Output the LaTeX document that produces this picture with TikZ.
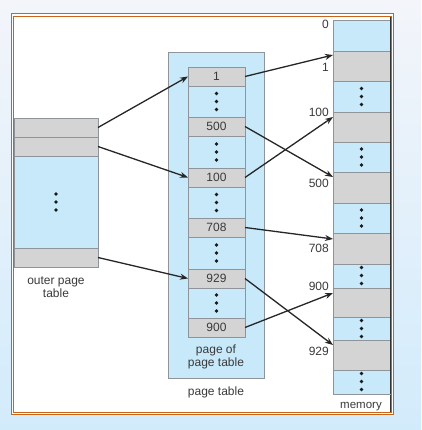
\documentclass[tikz,border=0pt]{standalone}
\usepackage{fontspec}
\setmainfont{Liberation Sans}
\usetikzlibrary{arrows.meta}
\definecolor{cellblue}{HTML}{C8E9F9}
\definecolor{cellgray}{HTML}{D4D4D4}
\definecolor{edgegray}{HTML}{8E9499}
\definecolor{framorange}{HTML}{C8651B}
\definecolor{txt}{HTML}{3A3A3A}
\definecolor{bgtop}{HTML}{F3F5FA}
\definecolor{bgbot}{HTML}{D2EBFB}
\newcommand\threedots[2]{\fill[black!90] (#1,#2-8) circle (1.9);\fill[black!90] (#1,#2) circle (1.9);\fill[black!90] (#1,#2+8) circle (1.9);}
\begin{document}
\begin{tikzpicture}[x=1pt,y=-1pt,
  cell/.style={draw=edgegray, line width=0.9pt, inner sep=0pt, outer sep=0pt, font=\fontsize{12}{14}\selectfont, text=txt},
  gcell/.style={cell, fill=cellgray},
  bcell/.style={cell, fill=cellblue},
  arr/.style={-{Stealth[length=8pt,width=6pt]}, line width=1.3pt, draw=black!85},
  lbl/.style={font=\fontsize{12}{13.5}\selectfont, text=txt, inner sep=0pt, align=center}]
\useasboundingbox (0,0) rectangle (421,430);
\shade[top color=bgtop,bottom color=bgbot] (0,0) rectangle (421,430);
% frame
\fill[white] (12,14) rectangle (393,414);
\draw[framorange, line width=1pt] (11.8,14) rectangle (393.3,414.3);
\draw[framorange, line width=0.8pt] (13.5,16) rectangle (391,412.5);
\draw[black!80, line width=1.2pt] (390.4,17) -- (390.4,412);
% outer page table
\node[bcell, minimum width=83.5, minimum height=92] (ob) at (56.25,202) {};
\node[gcell, minimum width=83.5, minimum height=19] (o1) at (56.25,127.5) {};
\node[gcell, minimum width=83.5, minimum height=19] (o2) at (56.25,146.5) {};
\node[gcell, minimum width=83.5, minimum height=19] (o3) at (56.25,257.5) {};
\threedots{56}{202}
\node[lbl] (olbl) at (56,287) {outer page\\table};
% page table
\node[bcell, minimum width=96, minimum height=326] (pt) at (216,215) {};
\node[bcell, minimum width=57, minimum height=270] (col) at (216.5,202) {};
\node[gcell, minimum width=57, minimum height=19] (e1) at (216.5,76.5) {1};
\node[gcell, minimum width=57, minimum height=19] (e500) at (216.5,126.5) {500};
\node[gcell, minimum width=57, minimum height=19] (e100) at (216.5,177.5) {100};
\node[gcell, minimum width=57, minimum height=19] (e708) at (216.5,227.5) {708};
\node[gcell, minimum width=57, minimum height=19] (e929) at (216.5,278.5) {929};
\node[gcell, minimum width=57, minimum height=19] (e900) at (216.5,327.5) {900};
\threedots{216.5}{101.5}
\threedots{216.5}{152}
\threedots{216.5}{202.5}
\threedots{216.5}{253}
\threedots{216.5}{303}
\node[lbl] (pplbl) at (216,357) {page of\\page table};
\node[lbl] (ptlbl) at (216,392) {page table};
% memory
\node[bcell, minimum width=57, minimum height=374] (mem) at (361.5,207) {};
\node[gcell, minimum width=57, minimum height=30] (m1) at (361.5,66) {};
\node[gcell, minimum width=57, minimum height=30] (m100) at (361.5,127) {};
\node[gcell, minimum width=57, minimum height=31] (m500) at (361.5,187.5) {};
\node[gcell, minimum width=57, minimum height=31] (m708) at (361.5,248.5) {};
\node[gcell, minimum width=57, minimum height=29] (m900) at (361.5,302.5) {};
\node[gcell, minimum width=57, minimum height=30] (m929) at (361.5,355) {};
\threedots{361.5}{96.5}
\threedots{361.5}{157}
\threedots{361.5}{218}
\threedots{361.5}{275.5}
\threedots{361.5}{328.5}
\threedots{361.5}{381.5}
\draw[black!80, line width=1.2pt] (390.4,20) -- (390.4,394);
\node[lbl, anchor=east] (l0) at (329,24.5) {0};
\node[lbl, anchor=east] (l1) at (329,67.5) {1};
\node[lbl, anchor=east] (l100) at (329,112) {100};
\node[lbl, anchor=east] (l500) at (329,183.5) {500};
\node[lbl, anchor=east] (l708) at (329,248) {708};
\node[lbl, anchor=east] (l900) at (329,286) {900};
\node[lbl, anchor=east] (l929) at (329,351) {929};
\node[lbl, font=\fontsize{11.5}{13}\selectfont] (mlbl) at (361,407) {memory};
% arrows
\draw[arr] (o1.east) -- (e1.west);
\draw[arr] (o2.east) -- (e100.west);
\draw[arr] (o3.east) -- (e929.west);
\draw[arr] (e1.east) -- ([yshift=-4pt]m1.north west);
\draw[arr] (e500.east) -- ([yshift=-5pt]m500.north west);
\draw[arr] (e100.east) -- ([yshift=-5pt]m100.north west);
\draw[arr] (e708.east) -- ([yshift=-6pt]m708.north west);
\draw[arr] (e929.east) -- ([yshift=-5pt]m929.north west);
\draw[arr] (e900.east) -- ([yshift=-5pt]m900.north west);
\end{tikzpicture}
\end{document}
